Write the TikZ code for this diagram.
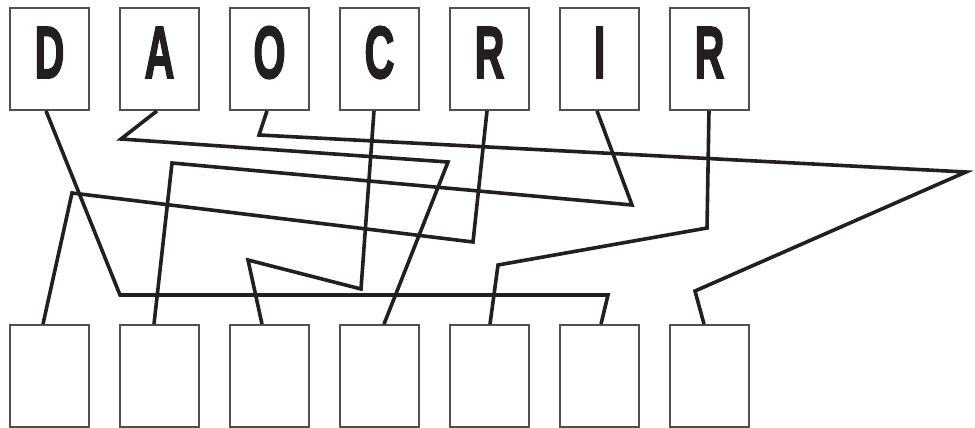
\documentclass[tikz,border=0pt]{standalone}
\usepackage{fontspec}
\setmainfont{Liberation Sans}
\newfontfamily\heavyfont[FakeBold=2.5]{Liberation Sans Bold}
\usetikzlibrary{calc}
\definecolor{ink}{HTML}{231F20}
\definecolor{boxline}{HTML}{505050}
\tikzset{
  card/.style={draw=boxline, line width=1.8pt, minimum width=79pt, minimum height=102pt, inner sep=0pt, fill=white},
  letter/.style={inner sep=0pt, text=ink, font=\heavyfont\fontsize{74pt}{74pt}\selectfont},
  wire/.style={draw=ink, line width=3.6pt, line join=miter}
}
\newcommand{\cardletter}[1]{\scalebox{0.56}[1]{#1}}
\begin{document}
\begin{tikzpicture}[x=1pt,y=-1pt]
\useasboundingbox (0,0) rectangle (975,428);
% top cards
\foreach \i/\l in {1/D,2/A,3/O,4/C,5/R,6/I,7/R}{
  \node[card] (t\i) at ({49.5+110*(\i-1)},59) {};
  \node[letter, anchor=base] (l\i) at ({49.5+110*(\i-1)},78) {\cardletter{\l}};
}
% bottom cards
\foreach \i in {1,...,7}{
  \node[card] (b\i) at ({49.5+110*(\i-1)},376) {};
}
% connectors
\draw[wire] ([xshift=-3.5pt]t1.south) -- (120,295) -- (608,295) -- ([xshift=1.5pt]b6.north);
\draw[wire] ([xshift=-2.5pt]t2.south) -- (121,139) -- (448,162) -- ([xshift=4.5pt]b4.north);
\draw[wire] ([xshift=-2.5pt]t3.south) -- (259,135) -- (966,172) -- (695,291) -- ([xshift=-5.5pt]b7.north);
\draw[wire] ([xshift=-5.5pt]t4.south) -- (361,289) -- (248,260) -- ([xshift=-7.5pt]b3.north);
\draw[wire] ([xshift=-2.5pt]t5.south) -- (473,242) -- (72,193) -- ([xshift=-6.5pt]b1.north);
\draw[wire] ([xshift=-2.5pt]t6.south) -- (632,205) -- (172,163) -- ([xshift=-5.5pt]b2.north);
\draw[wire] ([xshift=-0.5pt]t7.south) -- (707,228) -- (498,265) -- ([xshift=0.5pt]b5.north);
\end{tikzpicture}
\end{document}
